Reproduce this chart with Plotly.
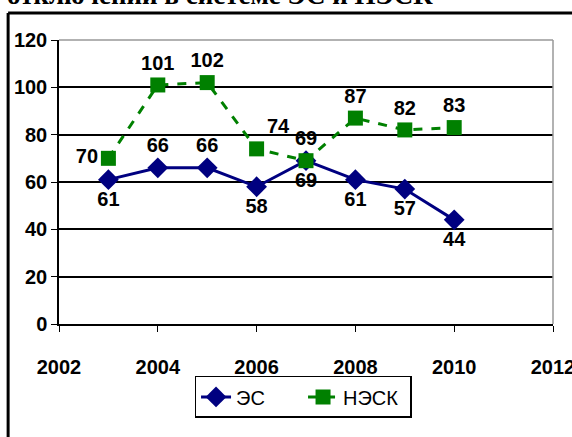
import plotly.graph_objects as go

years = [2003, 2004, 2005, 2006, 2007, 2008, 2009, 2010]
es_values = [61, 66, 66, 58, 69, 61, 57, 44]
nesk_values = [70, 101, 102, 74, 69, 87, 82, 83]
es_textpos = ["bottom center", "top center", "top center", "bottom center",
              "bottom center", "bottom center", "bottom center", "bottom center"]
nesk_textpos = ["middle left", "top center", "top center", "top right",
                "top center", "top center", "top center", "top center"]
x_ticks = [2002, 2004, 2006, 2008, 2010, 2012]
y_ticks = [0, 20, 40, 60, 80, 100, 120]

FONT = "Liberation Sans, Arial"
FS = 20

fig = go.Figure()
fig.add_trace(go.Scatter(
    x=years, y=es_values, name="ЭС", mode="lines+markers+text",
    line=dict(color="#000080", width=3),
    marker=dict(symbol="diamond", size=16, color="#000080"),
    text=[str(v) for v in es_values], textposition=es_textpos,
    textfont=dict(family=FONT, size=FS, color="black", weight="bold"),
))
fig.add_trace(go.Scatter(
    x=years, y=nesk_values, name="НЭСК", mode="lines+markers+text",
    line=dict(color="#008000", width=3, dash="dash"),
    marker=dict(symbol="square", size=15, color="#008000"),
    text=[str(v) for v in nesk_values], textposition=nesk_textpos,
    textfont=dict(family=FONT, size=FS, color="black", weight="bold"),
))

fig.update_layout(
    width=572, height=437,
    margin=dict(l=59, r=19, t=40, b=113, autoexpand=False),
    paper_bgcolor="white", plot_bgcolor="white",
    font=dict(family=FONT, color="black"),
    showlegend=True,
    legend=dict(orientation="h", x=0.494, xanchor="center", y=-0.183, yanchor="top",
                bordercolor="black", borderwidth=1.5, bgcolor="white",
                font=dict(family=FONT, size=FS, color="black"),
                entrywidth=62, entrywidthmode="pixels",
                traceorder="normal"),
    xaxis=dict(range=[2002, 2012], tickvals=x_ticks, showgrid=False,
               showline=True, linecolor="black", linewidth=1.5,
               ticks="outside", ticklen=6, tickcolor="black",
               ticklabelstandoff=18, ticklabeloverflow="allow", zeroline=False,
               tickfont=dict(family=FONT, size=FS, weight="bold")),
    yaxis=dict(range=[0, 120], tickvals=y_ticks, showgrid=True,
               gridcolor="black", gridwidth=1.5,
               showline=True, linecolor="black", linewidth=1.5,
               ticks="outside", ticklen=6, tickcolor="black", zeroline=False,
               ticklabeloverflow="allow",
               tickfont=dict(family=FONT, size=FS, weight="bold")),
    shapes=[
        dict(type="line", xref="paper", yref="paper", x0=0, x1=1, y0=1, y1=1,
             line=dict(color="#999999", width=1.5), layer="above"),
        dict(type="line", xref="paper", yref="paper", x0=1, x1=1, y0=0, y1=1,
             line=dict(color="#999999", width=1.5), layer="above"),
        dict(type="line", xref="paper", yref="paper", x0=-0.103, x1=-0.103,
             y0=-0.45, y1=1.095, line=dict(color="black", width=3)),
        dict(type="line", xref="paper", yref="paper", x0=-0.103, x1=1.05,
             y0=1.095, y1=1.095, line=dict(color="black", width=3)),
    ],
    annotations=[
        dict(text="отключений в системе ЭС и НЭСК", xref="paper", yref="paper",
             x=-0.11, xanchor="left", y=1.097, yanchor="bottom", showarrow=False,
             font=dict(family="Liberation Serif, Times New Roman", size=27,
                       color="black", weight="bold")),
    ],
)

fig.write_html("out.html",
               config={"displayModeBar": False},
               post_script="document.body.style.margin='0';document.body.style.padding='0';")
